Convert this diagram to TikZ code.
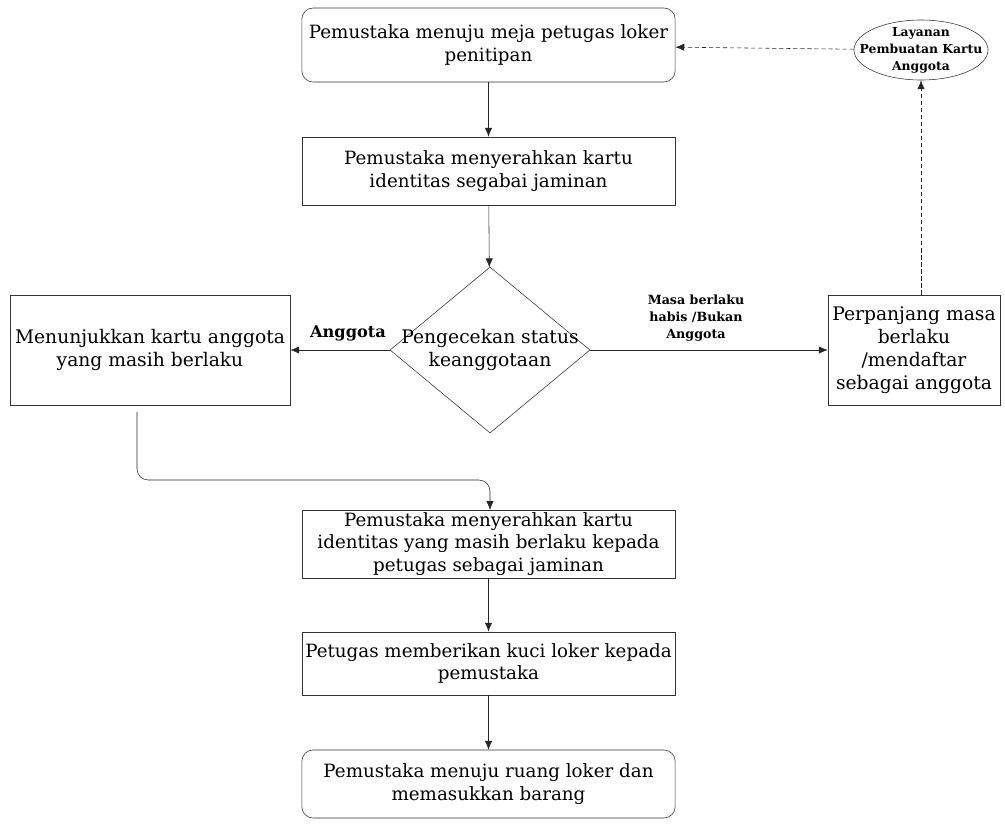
\documentclass[tikz,border=0pt]{standalone}
\usepackage{fontspec}
\setmainfont{DejaVu Serif}
\usetikzlibrary{shapes.geometric,arrows.meta}

\tikzset{
	kotak/.style={draw=black!80, align=center, inner sep=1pt, font=\fontsize{13}{15.8}\selectfont},
	bulat/.style={kotak, rounded corners=8pt},
	panah/.style={draw=black!85, -{Latex[length=2.2mm,width=1.8mm]}},
	putus/.style={panah, densely dashed},
}

\begin{document}
\begin{tikzpicture}[x=0.025cm, y=-0.025cm]
	\useasboundingbox (0,0) rectangle (1005,824);

	% Alur utama
	\node[bulat, minimum width=9.33cm, minimum height=1.85cm] (menuju) at (488.5,45) {Pemustaka menuju meja petugas loker\\penitipan};
	\node[kotak, minimum width=9.33cm, minimum height=1.7cm] (serah) at (488.5,171) {Pemustaka menyerahkan kartu\\identitas segabai jaminan};
	\node[diamond, draw=black!80, minimum width=5cm, minimum height=4.15cm, inner sep=0pt] (cek) at (490,350) {};
	\node[align=center, font=\fontsize{13.3}{15.8}\selectfont] (teks cek) at (cek) {Pengecekan status\\keanggotaan};

	% Cabang kiri dan kanan
	\node[kotak, minimum width=7cm, minimum height=2.75cm, font=\fontsize{13.3}{15.8}\selectfont] (tunjuk) at (150,350) {Menunjukkan kartu anggota\\yang masih berlaku};
	\node[kotak, minimum width=4.3cm, minimum height=2.75cm, font=\fontsize{13.3}{16.5}\selectfont] (daftar) at (914,350) {Perpanjang masa\\berlaku\\/mendaftar\\sebagai anggota};
	\node[ellipse, draw=black!80, minimum width=3.35cm, minimum height=1.5cm, inner sep=0pt] (layanan) at (921,50) {};
	\node[align=center, font=\fontsize{8.8}{12}\selectfont\bfseries] (teks layanan) at (layanan) {Layanan\\Pembuatan Kartu\\Anggota};

	% Alur bawah
	\node[kotak, minimum width=9.33cm, minimum height=1.7cm] (serahdua) at (488.5,544) {Pemustaka menyerahkan kartu\\identitas yang masih berlaku kepada\\petugas sebagai jaminan};
	\node[kotak, minimum width=9.33cm, minimum height=1.58cm] (kunci) at (488.5,663.5) {Petugas memberikan kuci loker kepada\\pemustaka};
	\node[bulat, minimum width=9.33cm, minimum height=1.7cm] (barang) at (488.5,784) {Pemustaka menuju ruang loker dan\\memasukkan barang};

	% Label cabang
	\node[font=\fontsize{11.5}{14}\selectfont\bfseries] (lblanggota) at (348,333) {Anggota};
	\node[align=center, font=\fontsize{9}{12}\selectfont\bfseries] (lblhabis) at (696,318) {Masa berlaku\\habis /Bukan\\Anggota};

	% Panah
	\draw[panah] (menuju) -- (serah);
	\draw[panah] (serah) -- (cek);
	\draw[panah] (cek) -- (tunjuk);
	\draw[panah] (cek) -- (daftar);
	\draw[putus] (layanan.south |- daftar.north) -- (layanan.south);
	\draw[putus] (layanan) -- (menuju);
	\coordinate (awal) at (137,412);
	\draw[panah, rounded corners=8pt] (awal) -- (awal |- 0,480) -- (490,480) -- (490,510);
	\draw[panah] (serahdua) -- (kunci);
	\draw[panah] (kunci) -- (barang);
\end{tikzpicture}
\end{document}
